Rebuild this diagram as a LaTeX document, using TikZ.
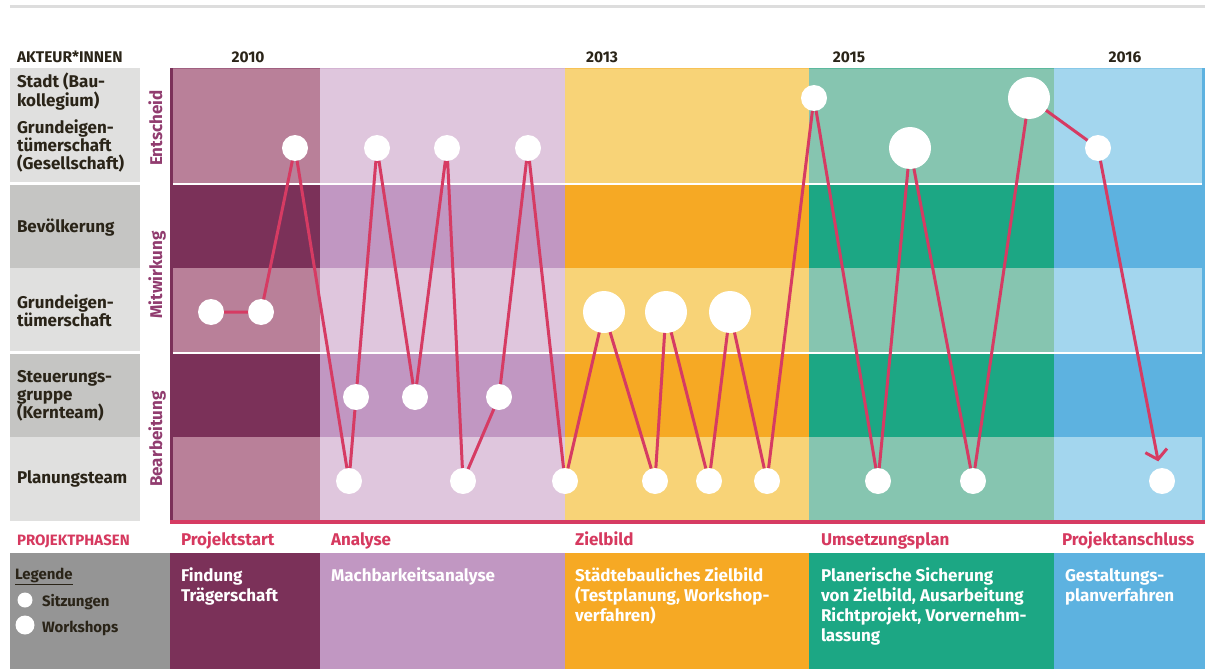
\documentclass[tikz,border=0pt]{standalone}
\usepackage{fontspec}
\setmainfont{Fira Sans}
\usetikzlibrary{arrows.meta}
\definecolor{pAl}{HTML}{B98099}
\definecolor{pAd}{HTML}{7B3159}
\definecolor{pBl}{HTML}{DFC6DD}
\definecolor{pBd}{HTML}{C197C2}
\definecolor{pCl}{HTML}{F8D377}
\definecolor{pCd}{HTML}{F6A924}
\definecolor{pDl}{HTML}{86C5B0}
\definecolor{pDd}{HTML}{1CA784}
\definecolor{pEl}{HTML}{A3D6EE}
\definecolor{pEd}{HTML}{5DB2E0}
\definecolor{redline}{HTML}{D63B63}
\definecolor{pinktxt}{HTML}{D6395F}
\definecolor{vlab}{HTML}{913C6F}
\definecolor{grayA}{HTML}{E0E0DF}
\definecolor{grayB}{HTML}{C5C5C3}
\definecolor{leggray}{HTML}{959595}
\definecolor{rulegray}{HTML}{DDDDDD}
\definecolor{darktxt}{HTML}{2A2418}
\newcommand{\ml}[1]{\parbox[t]{300pt}{\raggedright #1}}
\begin{document}
\begin{tikzpicture}[x=1pt,y=-1pt,
  every node/.style={inner sep=0pt, outer sep=0pt},
  lab/.style={anchor=base west, text=darktxt, font=\fontsize{17}{18.4}\selectfont\bfseries},
  head/.style={anchor=base, text=darktxt, font=\fontsize{15.5}{17}\selectfont\bfseries},
  phase/.style={anchor=base west, text=pinktxt, font=\fontsize{17}{19}\selectfont\bfseries},
  desc/.style={anchor=base west, text=white, font=\fontsize{17}{20}\selectfont\bfseries},
  vlabel/.style={anchor=base, rotate=90, text=vlab, font=\fontsize{17}{19}\selectfont\bfseries},
  legtxt/.style={anchor=base west, text=darktxt, font=\fontsize{15}{17}\selectfont\bfseries},
  sitz/.style={circle, fill=white, minimum size=26pt},
  work/.style={circle, fill=white, minimum size=42pt},
  link/.style={draw=redline, line width=3pt}]
\useasboundingbox (0,0) rectangle (1205,669);
\fill[white] (0,0) rectangle (1205,669);
% top rule
\fill[rulegray] (10,5.5) rectangle (1205,8.5);
% actor boxes
\fill[grayA] (10,68) rectangle (140,182);
\fill[grayB] (10,185) rectangle (140,268);
\fill[grayA] (10,268) rectangle (140,351);
\fill[grayB] (10,354) rectangle (140,437);
\fill[grayA] (10,437) rectangle (140,521);
% phase columns
\foreach \xa/\xb/\cl/\cd in {170/320/pAl/pAd, 320/565/pBl/pBd, 565/809/pCl/pCd, 809/1054/pDl/pDd, 1054/1205/pEl/pEd}{
  \fill[\cl] (\xa,68) rectangle (\xb,521);
  \fill[\cd] (\xa,185) rectangle (\xb,268);
  \fill[\cd] (\xa,354) rectangle (\xb,437);
  \fill[\cd!40!\cl] (\xa,68) rectangle (\xb,69);
  \fill[\cd] (\xa,553) rectangle (\xb,669);
}
\fill[pEd] (1202,68) rectangle (1205,521);
\fill[pAd] (170,68) rectangle (173,521);
\fill[white] (173,182.5) rectangle (1202,185);
\fill[white] (173,351.5) rectangle (1202,354);
\fill[redline] (170,520) rectangle (1205,524);
\fill[leggray] (10,553) rectangle (170,669);
% headings
\node[head, anchor=base west] (akt) at (17,63) {AKTEUR*INNEN};
\node[head] (y10) at (248,63) {2010};
\node[head] (y13) at (602,63) {2013};
\node[head] (y15) at (849,63) {2015};
\node[head] (y16) at (1125,63) {2016};
% actor labels
\node[lab] (a1) at (17,88) {\ml{Stadt (Bau-\\kollegium)}};
\node[lab] (a2) at (17,133) {\ml{Grundeigen-\\tümerschaft\\(Gesellschaft)}};
\node[lab] (a3) at (17,232) {Bevölkerung};
\node[lab] (a4) at (17,308) {\ml{Grundeigen-\\tümerschaft}};
\node[lab] (a5) at (17,382) {\ml{Steuerungs-\\gruppe\\(Kernteam)}};
\node[lab] (a6) at (17,483) {Planungsteam};
% vertical labels
\node[vlabel] (v1) at (162,128) {Entscheid};
\node[vlabel] (v2) at (162,275) {Mitwirkung};
\node[vlabel] (v3) at (162,439) {Bearbeitung};
% phases
\node[phase, font=\fontsize{15}{17}\selectfont\bfseries] (pp) at (17,545) {PROJEKTPHASEN};
\node[phase] (ph1) at (181,545) {Projektstart};
\node[phase] (ph2) at (331,545) {Analyse};
\node[phase] (ph3) at (575,545) {Zielbild};
\node[phase] (ph4) at (821,545) {Umsetzungsplan};
\node[phase] (ph5) at (1062,545) {Projektanschluss};
% descriptions
\node[desc] (d1) at (181,581) {\ml{Findung\\Trägerschaft}};
\node[desc] (d2) at (331,581) {Machbarkeitsanalyse};
\node[desc] (d3) at (575,581) {\ml{Städtebauliches Zielbild\\(Testplanung, Workshop-\\verfahren)}};
\node[desc] (d4) at (821,581) {\ml{Planerische Sicherung\\von Zielbild, Ausarbeitung\\Richtprojekt, Vorvernehm-\\lassung}};
\node[desc] (d5) at (1065,581) {\ml{Gestaltungs-\\planverfahren}};
% legend
\node[legtxt] (lg) at (15,579) {\underline{Legende}};
\node[circle, fill=white, minimum size=15pt] (ls) at (25,600) {};
\node[legtxt] (lst) at (42,606) {Sitzungen};
\node[circle, fill=white, minimum size=19pt] (lw) at (25,625) {};
\node[legtxt] (lwt) at (42,632) {Workshops};
% meetings
\node[sitz] (n1) at (211,312) {};
\node[sitz] (n2) at (261,312) {};
\node[sitz] (n3) at (295,148) {};
\node[sitz] (n4) at (349,481) {};
\node[sitz] (n5) at (356,397) {};
\node[sitz] (n6) at (377,148) {};
\node[sitz] (n7) at (415,397) {};
\node[sitz] (n8) at (447,148) {};
\node[sitz] (n9) at (463,481) {};
\node[sitz] (n10) at (499,397) {};
\node[sitz] (n11) at (528,148) {};
\node[sitz] (n12) at (565,481) {};
\node[work] (n13) at (604,312) {};
\node[sitz] (n14) at (655,481) {};
\node[work] (n15) at (666,312) {};
\node[sitz] (n16) at (709,481) {};
\node[work] (n17) at (730,312) {};
\node[sitz] (n18) at (767,481) {};
\node[sitz] (n19) at (814,98) {};
\node[sitz] (n20) at (878,481) {};
\node[work] (n21) at (910,148) {};
\node[sitz] (n22) at (973,481) {};
\node[work] (n23) at (1029,98) {};
\node[sitz] (n24) at (1098,148) {};
\node[sitz] (n25) at (1162,481) {};
\draw[link] (n1) -- (n2) -- (n3) -- (n4) -- (n5) -- (n6) -- (n7) -- (n8) -- (n9) -- (n10) -- (n11) -- (n12) -- (n13) -- (n14) -- (n15) -- (n16) -- (n17) -- (n18) -- (n19) -- (n20) -- (n21) -- (n22) -- (n23) -- (n24);
\draw[link, -{Straight Barb[length=9pt,width=22pt]}, shorten >=7pt] (n24) -- (n25);
\end{tikzpicture}
\end{document}
